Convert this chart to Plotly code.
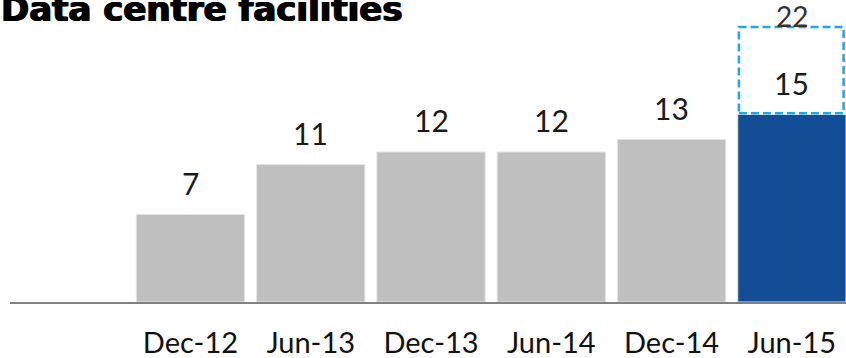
import plotly.graph_objects as go

# Data centre facility counts by half-year
periods = ["Dec-12", "Jun-13", "Dec-13", "Jun-14", "Dec-14", "Jun-15"]
facilities = [7, 11, 12, 12, 13, 15]
pipeline_total = 22  # expected total including facilities in development

FONT = "Lato"
GREY = "#bfbfbf"
BLUE = "#124d96"
DASH_BLUE = "#1aa9ee"

# first slot on the axis is left empty, bars start at position 1
xs = list(range(1, len(periods) + 1))
colors = [GREY] * (len(periods) - 1) + [BLUE]
bar_w = 0.9

fig = go.Figure()
fig.add_trace(go.Bar(
    x=xs, y=facilities, width=bar_w,
    marker=dict(color=colors, line=dict(color="#e4e4e4", width=1)),
    hoverinfo="skip",
))

# value labels above each bar
for x, v in zip(xs, facilities):
    fig.add_annotation(x=x, y=v, text=str(v), showarrow=False,
                       yanchor="middle", yshift=32,
                       font=dict(family=FONT, size=30, color="#1a1a1a"))

# dashed outline for the pipeline on top of the latest bar
last_x = xs[-1]
fig.add_shape(type="rect", xref="x", yref="y",
              x0=last_x - bar_w / 2 + 0.01, x1=last_x + bar_w / 2 - 0.02,
              y0=facilities[-1] + 0.1, y1=pipeline_total,
              line=dict(color=DASH_BLUE, width=2.5, dash="8px,4px"),
              fillcolor="rgba(0,0,0,0)")
fig.add_annotation(x=last_x, y=pipeline_total, text=str(pipeline_total),
                   showarrow=False, yanchor="bottom", yshift=-8,
                   font=dict(family=FONT, size=28, color="#333333"))

# chart title, partially above the page edge; shadow thickens the strokes
fig.add_annotation(xref="paper", yref="paper", x=0, y=1,
                   xanchor="left", yanchor="bottom", xshift=-11, yshift=-31,
                   text="<b>Data centre facilities</b>", showarrow=False,
                   font=dict(family="DejaVu Sans", size=34, color="#000000",
                             shadow="0.8px 0px 0px #000, -0.8px 0px 0px #000"))

fig.update_layout(
    width=846, height=358,
    margin=dict(l=10, r=0, t=0, b=56, autoexpand=False),
    paper_bgcolor="white", plot_bgcolor="white",
    showlegend=False,
    bargap=0.1,
    xaxis=dict(
        range=[-0.5, 6.45],
        tickmode="array", tickvals=xs, ticktext=periods,
        showline=True, linecolor="#808080", linewidth=2,
        showgrid=False, zeroline=False, ticks="",
        tickfont=dict(family=FONT, size=29, color="#111111"),
        ticklabelstandoff=14, automargin=False,
        fixedrange=True,
    ),
    yaxis=dict(
        range=[0, 24.16], visible=False, showgrid=False, zeroline=False,
        automargin=False, fixedrange=True,
    ),
)

fig.write_html("out.html")
